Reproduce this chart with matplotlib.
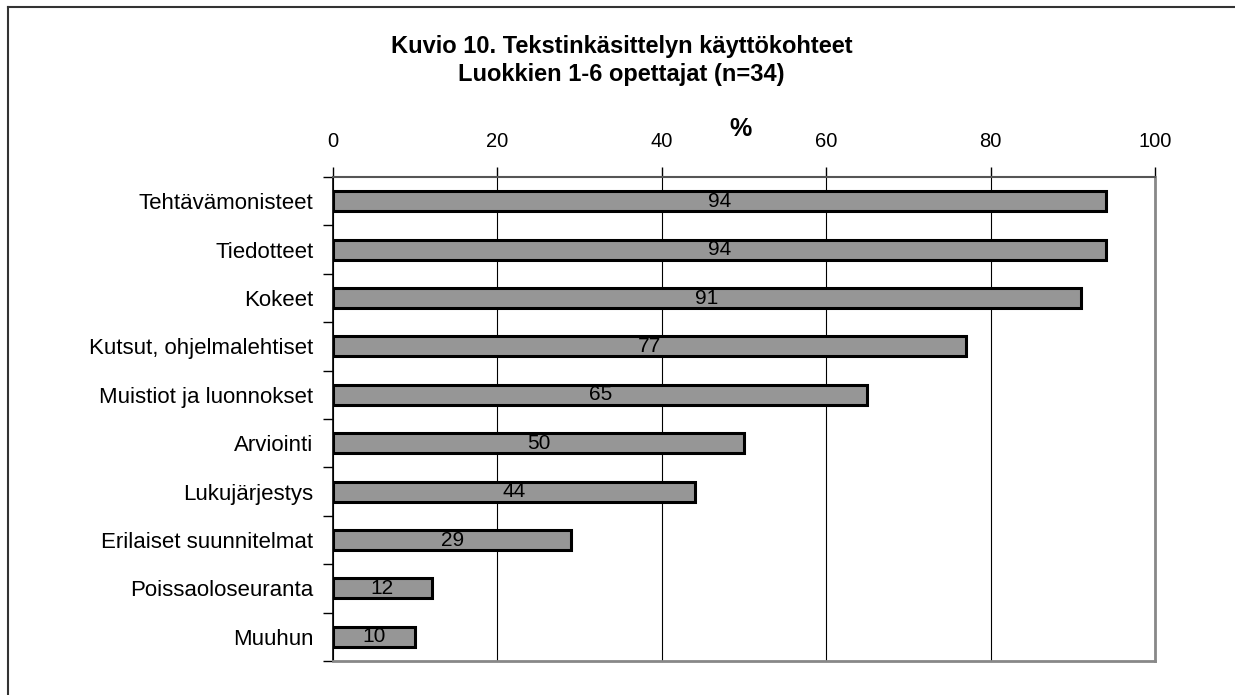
import matplotlib
matplotlib.use("Agg")
import matplotlib.pyplot as plt
from matplotlib.lines import Line2D

plt.rcParams['font.family'] = ['Liberation Sans', 'DejaVu Sans']

categories = ["Tehtävämonisteet", "Tiedotteet", "Kokeet", "Kutsut, ohjelmalehtiset",
              "Muistiot ja luonnokset", "Arviointi", "Lukujärjestys",
              "Erilaiset suunnitelmat", "Poissaoloseuranta", "Muuhun"]
values = [94, 94, 91, 77, 65, 50, 44, 29, 12, 10]
xticks = [0, 20, 40, 60, 80, 100]
title_lines = ["Kuvio 10. Tekstinkäsittelyn käyttökohteet", "Luokkien 1-6 opettajat (n=34)"]

W, H = 1235, 695
fig = plt.figure(figsize=(W / 100, H / 100), dpi=100)
L, R, T, B = 333, 1155, 177, 661
ax = fig.add_axes([L / W, 1 - B / H, (R - L) / W, (B - T) / H])

n = len(categories)
ypos = list(range(n))
ax.barh(ypos, values, height=0.41, color="#969696", edgecolor="black", linewidth=2.2, zorder=3)
for y, v in zip(ypos, values):
    ax.text(v / 2, y, str(v), ha="center", va="center", fontsize=15, zorder=4)

ax.set_xlim(0, 100)
ax.set_ylim(n - 0.5, -0.5)
ax.xaxis.tick_top()
ax.set_xticks(xticks)
ax.set_xticklabels([str(t) for t in xticks], fontsize=14.5)
ax.tick_params(axis="x", direction="out", length=7, width=1, pad=12)
ax.set_yticks([i + 0.5 for i in range(-1, n)], minor=False)
ax.set_yticklabels([])
ax.set_yticks(ypos, minor=True)
ax.set_yticklabels(categories, minor=True, fontsize=16)
ax.tick_params(axis="y", which="minor", length=0, pad=14)
ax.tick_params(axis="y", which="major", direction="out", length=7, width=1)
ax.grid(axis="x", color="black", linewidth=0.8, zorder=0)

ax.spines["left"].set_color("black")
ax.spines["left"].set_linewidth(1.2)
ax.spines["top"].set_color("#555555")
ax.spines["top"].set_linewidth(1.5)
ax.spines["right"].set_color("#888888")
ax.spines["right"].set_linewidth(2)
ax.spines["bottom"].set_color("#888888")
ax.spines["bottom"].set_linewidth(2)

fig.text(740 / W, 1 - 129 / H, "%", ha="center", va="center", fontsize=18, fontweight="bold")
fig.text(622 / W, 1 - 46 / H, title_lines[0], ha="center", va="center", fontsize=17, fontweight="bold")
fig.text(621 / W, 1 - 74 / H, title_lines[1], ha="center", va="center", fontsize=17, fontweight="bold")

fig.add_artist(Line2D([8 / W, 8 / W], [0, 1 - 7 / H], transform=fig.transFigure, color="#333333", linewidth=1.5))
fig.add_artist(Line2D([8 / W, 1], [1 - 7 / H, 1 - 7 / H], transform=fig.transFigure, color="#333333", linewidth=1.5))

fig.savefig("out.png", dpi=100)
